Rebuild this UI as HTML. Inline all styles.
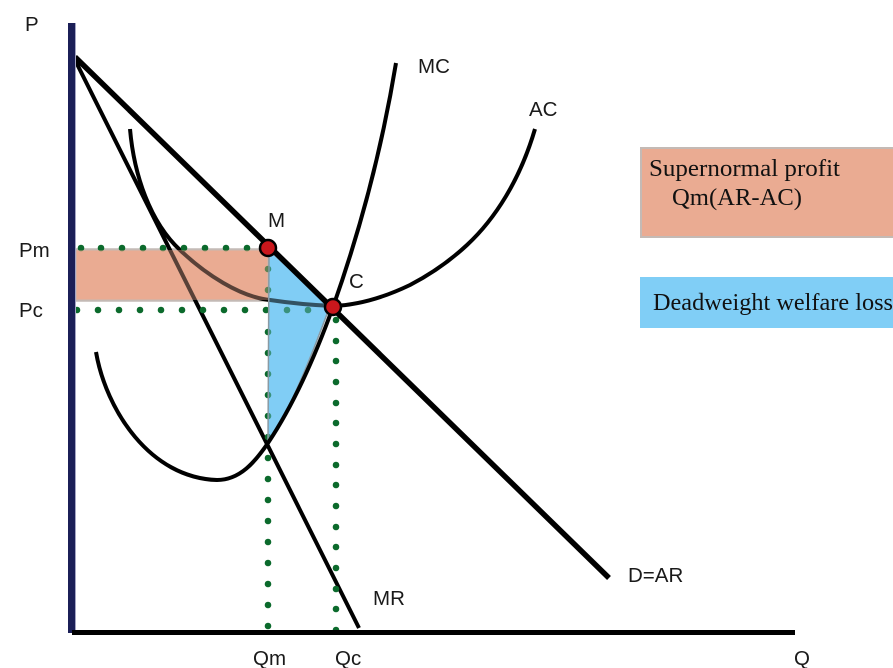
<!DOCTYPE html>
<html>
<head>
<meta charset="utf-8">
<style>
html,body{margin:0;padding:0;background:#fff;width:893px;height:668px;overflow:hidden}
svg{display:block}
.l{font-family:"Liberation Sans",sans-serif;font-size:20.5px;fill:#1a1a1a}
.s{font-family:"Liberation Serif",serif;font-size:24px;fill:#111}
</style>
</head>
<body>
<svg width="893" height="668" viewBox="0 0 893 668" xmlns="http://www.w3.org/2000/svg">
<rect x="75.500" y="249.500" width="193" height="51" fill="#eaab92" stroke="#c4bab5" stroke-width="2.500"/>
<path d="M269 250 L330 306 C310 360 290 410 268 443 Z" fill="#80cef6"/>
<path d="M130 129 C134 175 150 222 180 250 C205 274 240 297 270 300 C290 303 310 305 333 306 C360 305 385 297 410 285 C435 272 452 259 467 245 C495 219 520 180 535 129" fill="none" stroke="#000" stroke-width="4"/>
<path d="M75 60 L359 628" fill="none" stroke="#000" stroke-width="4"/>
<g fill="#0b6a2c">
<circle cx="81" cy="248" r="3.300"/><circle cx="101" cy="248" r="3.300"/><circle cx="122" cy="248" r="3.300"/><circle cx="143" cy="248" r="3.300"/><circle cx="163" cy="248" r="3.300"/><circle cx="184" cy="248" r="3.300"/><circle cx="205" cy="248" r="3.300"/><circle cx="226" cy="248" r="3.300"/><circle cx="247" cy="248" r="3.300"/>
<circle cx="77" cy="310" r="3.300"/><circle cx="98" cy="310" r="3.300"/><circle cx="119" cy="310" r="3.300"/><circle cx="140" cy="310" r="3.300"/><circle cx="161" cy="310" r="3.300"/><circle cx="182" cy="310" r="3.300"/><circle cx="203" cy="310" r="3.300"/><circle cx="224" cy="310" r="3.300"/><circle cx="245" cy="310" r="3.300"/><circle cx="266" cy="310" r="3.300"/><circle cx="287" cy="310" r="3.300"/><circle cx="308" cy="310" r="3.300"/>
<circle cx="268" cy="269" r="3.300"/><circle cx="268" cy="290" r="3.300"/><circle cx="268" cy="332" r="3.300"/><circle cx="268" cy="353" r="3.300"/><circle cx="268" cy="374" r="3.300"/><circle cx="268" cy="395" r="3.300"/><circle cx="268" cy="416" r="3.300"/><circle cx="268" cy="437" r="3.300"/><circle cx="268" cy="458" r="3.300"/><circle cx="268" cy="479" r="3.300"/><circle cx="268" cy="500" r="3.300"/><circle cx="268" cy="521" r="3.300"/><circle cx="268" cy="542" r="3.300"/><circle cx="268" cy="563" r="3.300"/><circle cx="268" cy="584" r="3.300"/><circle cx="268" cy="605" r="3.300"/><circle cx="268" cy="626" r="3.300"/>
<circle cx="336" cy="320" r="3.300"/><circle cx="336" cy="341" r="3.300"/><circle cx="336" cy="361" r="3.300"/><circle cx="336" cy="382" r="3.300"/><circle cx="336" cy="403" r="3.300"/><circle cx="336" cy="423" r="3.300"/><circle cx="336" cy="444" r="3.300"/><circle cx="336" cy="465" r="3.300"/><circle cx="336" cy="485" r="3.300"/><circle cx="336" cy="506" r="3.300"/><circle cx="336" cy="527" r="3.300"/><circle cx="336" cy="547" r="3.300"/><circle cx="336" cy="568" r="3.300"/><circle cx="336" cy="589" r="3.300"/><circle cx="336" cy="609" r="3.300"/><circle cx="336" cy="630" r="3.300"/>
</g>
<rect x="76" y="250" width="192" height="50" fill="#eaab92" fill-opacity=".38"/>
<path d="M269 250 L330 306 C310 360 290 410 268 443 Z" fill="#80cef6" fill-opacity=".4" stroke="#8a9aa3" stroke-width="1.500"/>
<path d="M96 352 C106 410 150 478 217 480 C240 480 255 462 268 443 C290 410 312 365 333 307 C355 245 380 160 396 63" fill="none" stroke="#000" stroke-width="4"/>
<path d="M75 57 L609 578" fill="none" stroke="#000" stroke-width="5.500"/>
<rect x="68" y="23" width="7" height="610" fill="#1b1f57"/>
<rect x="75" y="23" width="1" height="610" fill="#a4a5c4"/>
<rect x="72" y="630" width="723" height="5" fill="#000"/>
<circle cx="268" cy="248" r="8" fill="#c9171c" stroke="#000" stroke-width="2.500"/>
<circle cx="333" cy="307" r="8" fill="#c9171c" stroke="#000" stroke-width="2.500"/>
<text class="l" x="25" y="31">P</text>
<text class="l" x="19" y="257">Pm</text>
<text class="l" x="19" y="317">Pc</text>
<text class="l" x="268" y="227">M</text>
<text class="l" x="349" y="288">C</text>
<text class="l" x="418" y="73">MC</text>
<text class="l" x="529" y="116">AC</text>
<text class="l" x="628" y="582">D=AR</text>
<text class="l" x="373" y="605">MR</text>
<text class="l" x="253" y="665">Qm</text>
<text class="l" x="335" y="665">Qc</text>
<text class="l" x="794" y="665">Q</text>
<rect x="641" y="148" width="253" height="89" fill="#eaab92" stroke="#c4bab5" stroke-width="2"/>
<rect x="640" y="277" width="253" height="51" fill="#80cef6"/>
<text class="s" x="649" y="176" textLength="191" lengthAdjust="spacingAndGlyphs">Supernormal profit</text>
<text class="s" x="672" y="205" textLength="130" lengthAdjust="spacingAndGlyphs">Qm(AR-AC)</text>
<text class="s" x="653" y="310" textLength="240" lengthAdjust="spacingAndGlyphs">Deadweight welfare loss</text>
</svg>
</body>
</html>
